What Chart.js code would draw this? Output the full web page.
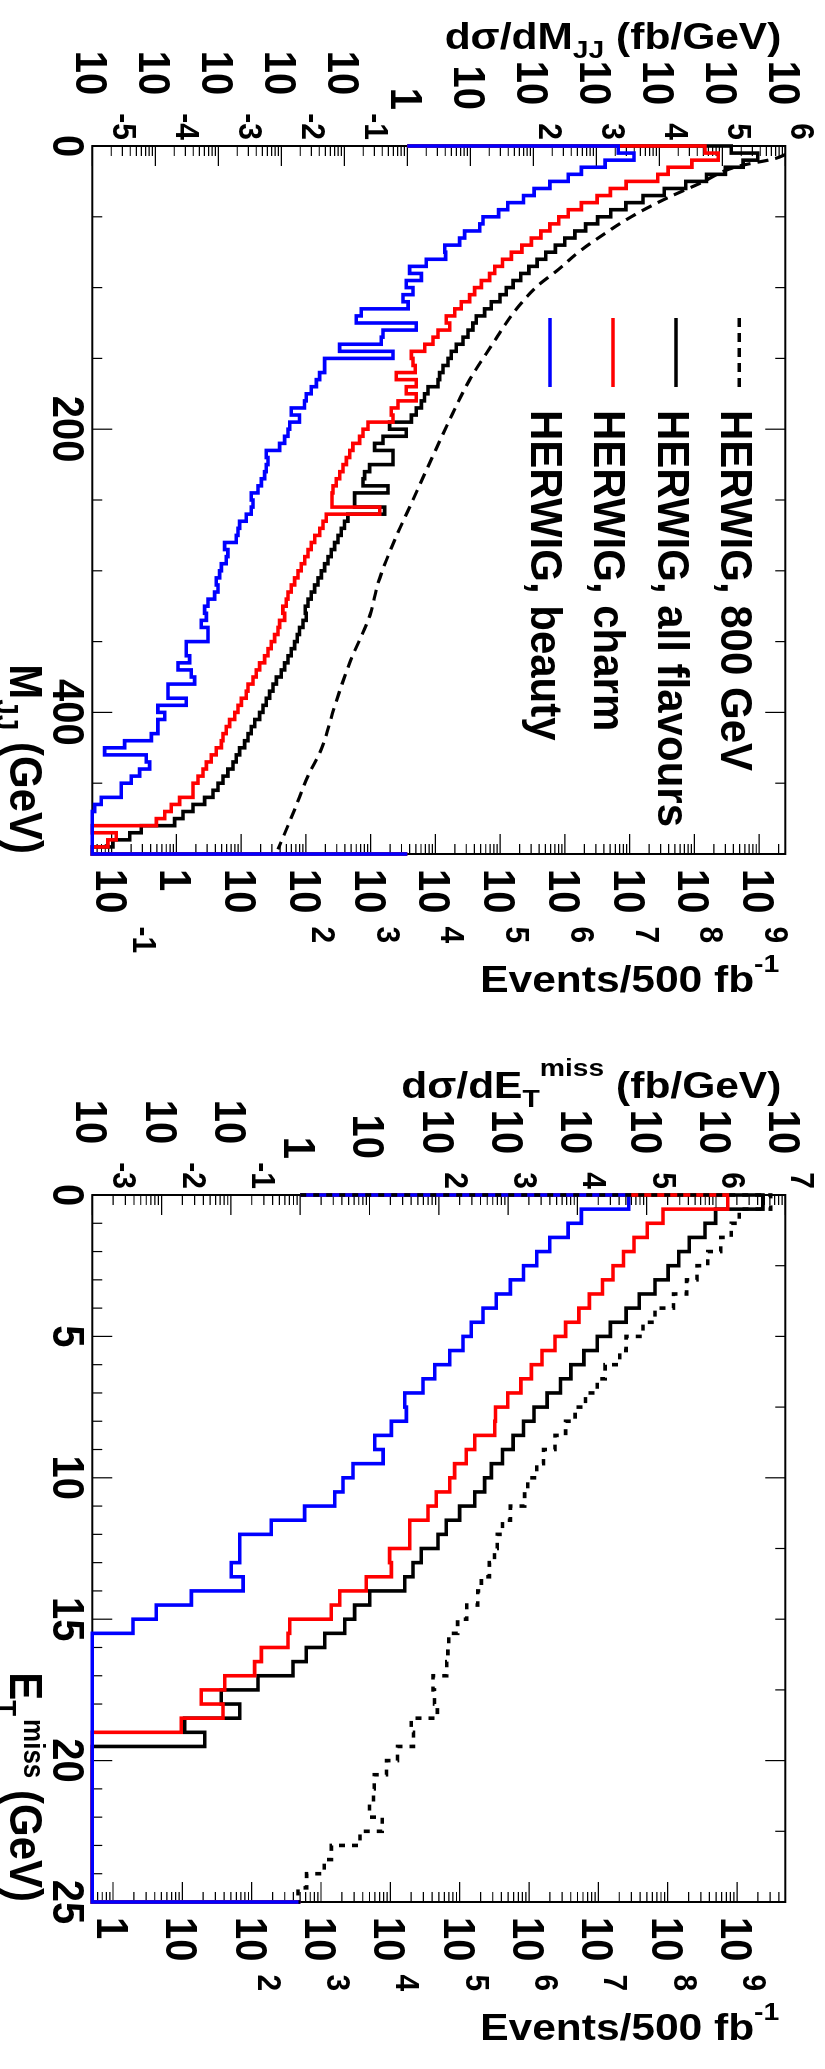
<!DOCTYPE html>
<html>
<head>
<meta charset="utf-8">
<script src="https://cdn.jsdelivr.net/npm/chart.js@4.4.1/dist/chart.umd.min.js"></script>
<style>
html,body{margin:0;padding:0;background:#fff;overflow:hidden;width:825px;height:2069px;}
#rot{position:absolute;left:0;top:0;width:2069px;height:825px;transform-origin:0 0;transform:translate(825px,0) rotate(90deg);background:#fff;}
#cA{position:absolute;left:0;top:0;}
#cB{position:absolute;left:1049px;top:0;}
</style>
</head>
<body>
<div id="rot">
  <canvas id="cA" width="1000" height="825"></canvas>
  <canvas id="cB" width="1020" height="825"></canvas>
</div>
<script>
// ---------------- DATA ----------------
// Upper panel: dsigma/dM_JJ (fb/GeV) in 5 GeV bins, M_JJ 0..500 GeV
const mjjRange = [0, 500];
const mjjBinWidth = 5;
const mjjTickLabels = [0, 200, 400];
const mjjBeauty = [2230, 3960, 1380, 580, 358, 183, 103, 69.8, 39.3, 28.2,
  15.9, 14.1, 8.13, 6.78, 3.92, 4.06, 2.00, 1.09, 1.67, 0.964,
  1.23, 0.853, 1.03, 0.186, 0.155, 1.39, 0.411, 0.386, 0.0843, 0.592,
  0.0488, 0.0488, 0.0406, 0.0360, 0.0299, 0.0249, 0.0234, 0.0144, 0.0195, 0.0136,
  0.0128, 0.0113, 0.00942, 0.00578, 0.00614, 0.00578, 0.00543, 0.00482, 0.00427, 0.00334,
  0.00355, 0.00334, 0.00278, 0.00218, 0.00205, 0.00193, 0.00126, 0.00142, 0.00134, 0.00112,
  0.00105, 0.000929, 0.000989, 0.000875, 0.000685, 0.000607, 0.000646, 0.000537, 0.000685, 0.000685,
  0.000310, 0.000310, 0.000351, 0.000229, 0.000372, 0.000421, 0.000159, 0.000159, 0.000310, 0.000110,
  0.000141, 0.000110, 0.000110, 0.0000865, 0.0000326, 0.0000157, 0.0000719, 0.0000813, 0.0000564, 0.0000416,
  0.0000288, 0.0000288, 0.0000139, 0.0000109, 0, 0, 0, 0, 0, 0];
const mjjCharm = [53100, 86100, 32900, 13800, 9440, 2970, 1670, 1030, 580, 358,
  254, 183, 132, 93.3, 65.9, 44.9, 32.4, 24.4, 20.3, 15.0,
  11.7, 9.77, 7.19, 5.65, 4.16, 4.71, 3.07, 2.56, 1.89, 1.16,
  1.23, 1.34, 0.668, 1.39, 0.964, 1.39, 0.711, 0.557, 0.593, 0.238,
  0.198, 0.175, 0.137, 0.122, 0.108, 0.0953, 0.0845, 0.0746, 0.0662, 0.0638,
  0.0638, 0.365, 0.0518, 0.0459, 0.0407, 0.0339, 0.0299, 0.0265, 0.0235, 0.0207,
  0.0184, 0.0163, 0.0144, 0.0128, 0.0120, 0.0106, 0.0113, 0.00942, 0.00885, 0.00783,
  0.00693, 0.00614, 0.00543, 0.00453, 0.00401, 0.00355, 0.00296, 0.00278, 0.00232, 0.00205,
  0.00182, 0.00151, 0.00134, 0.00119, 0.00112, 0.000929, 0.000774, 0.000646, 0.000571, 0.000475,
  0.000396, 0.000396, 0.000243, 0.000179, 0.000141, 0.000104, 0, 0.0000240, 0.0000177, 0];
const mjjAll = [139000, 365000, 214000, 112000, 56200, 26300, 12000, 5500, 2950, 1700,
  1050, 676, 457, 316, 224, 158, 115, 85.1, 63.1, 47.9,
  37.2, 29.6, 21.5, 16.9, 12.4, 11.0, 9.18, 7.66, 6.00, 4.99,
  4.43, 3.68, 3.26, 3.07, 2.13, 1.88, 1.67, 1.39, 1.16, 0.525,
  0.964, 0.411, 0.303, 0.592, 0.592, 0.252, 0.210, 0.198, 0.493, 0.146,
  0.146, 0.437, 0.114, 0.101, 0.0895, 0.0793, 0.0703, 0.0622, 0.0551, 0.0488,
  0.0432, 0.0382, 0.0338, 0.0299, 0.0265, 0.0240, 0.0249, 0.0221, 0.0195, 0.0179,
  0.0163, 0.0144, 0.0128, 0.0113, 0.0100, 0.00834, 0.00738, 0.00653, 0.00578, 0.00512,
  0.00453, 0.00378, 0.00334, 0.00296, 0.00262, 0.00218, 0.00193, 0.00171, 0.00142, 0.00119,
  0.000989, 0.000822, 0.000607, 0.000396, 0.000275, 0.000203, 0.0000600, 0.0000392, 0.0000213, 0];
const mjj800M = [6, 8.7, 14.6, 26.4, 38.1, 49.9, 61.7, 73.4, 87.6, 99.4, 113.5, 127.6, 137.5, 165,
  195.8, 226.5, 252.4, 278.2, 308.8, 331, 364.9, 395.5, 426.1, 444.9, 468.5, 496.7];
const mjj800Val = [1.0e6, 7.1e5, 1.69e5, 4.4e4, 1.15e4, 3610, 1380, 580, 244, 113, 57.8, 33.9, 24.4, 9.8,
  4.43, 2.13, 1.16, 0.631, 0.343, 0.257, 0.122, 0.0705, 0.0432, 0.0265, 0.0163, 0.00887];

// Lower panel: dsigma/dE_T^miss (fb/GeV) in 0.5 GeV bins, 0..25 GeV
const etRange = [0, 25];
const etBinWidth = 0.5;
const etTickLabels = [0, 5, 10, 15, 20, 25];
const etBeauty = [55000, 11400, 7360, 4000, 2590, 1670, 1080, 676, 435, 294,
  223, 144, 87.3, 59.2, 32.2, 34.0, 20.7, 11.9, 15.7, 5.78,
  4.15, 3.15, 1.16, 0.383, 0.134, 0.134, 0.101, 0.150, 0.0269, 0.00839,
  0.00386, 0, 0, 0, 0, 0, 0, 0, 0, 0,
  0, 0, 0, 0, 0, 0, 0, 0, 0, 0];
const etCharm = [1.48e6, 172000, 102000, 65600, 46200, 32700, 23000, 14900, 10500, 6760,
  4760, 3080, 2170, 1530, 986, 658, 641, 330, 249, 169,
  144, 92.0, 69.8, 38.0, 38.0, 19.5, 20.7, 8.99, 3.72, 2.81,
  0.705, 0.667, 0.275, 0.220, 0.0815, 0.0374, 0.0769, 0.0192, 0, 0,
  0, 0, 0, 0, 0, 0, 0, 0, 0, 0];
const etAll = [4.75e6, 986000, 693000, 412000, 290000, 204000, 132000, 78200, 50500, 29900,
  19300, 12400, 8050, 5690, 3660, 2370, 1670, 1180, 830, 573,
  459, 330, 200, 128, 97.3, 55.8, 42.5, 32.2, 10.1, 6.11,
  4.39, 2.26, 1.22, 0.787, 0.246, 0.0726, 0.134, 0.0215, 0.0419, 0,
  0, 0, 0, 0, 0, 0, 0, 0, 0, 0];
const et800 = [6.18e6, 2.16e6, 1.66e6, 1.17e6, 759000, 533000, 377000, 244000, 132000, 88500,
  50500, 40900, 25100, 19300, 13100, 9270, 6760, 4760, 3240, 2590,
  1920, 1730, 1080, 830, 697, 638, 536, 412, 364, 253,
  187, 139, 135, 130, 82.4, 86.5, 95.5, 40.0, 43.2, 25.4,
  17.6, 11.7, 11.4, 10.0, 15.3, 7.29, 2.82, 2.22, 1.24, 0.929];

// Axis ranges
const mjjXsecRange = [1e-5, 1e6];
const mjjEventsRangeLog = [-1.297, 9.403];
const etXsecRange = [1e-3, 1e7];
const etEventsRangeLog = [-0.2985, 9.696];
const histBaseline = 1;

const legendLabels = ['HERWIG, 800 GeV', 'HERWIG, all flavours', 'HERWIG, charm', 'HERWIG, beauty'];

// ---------------- helpers ----------------
const FAMILY = '"Liberation Sans", Arial, Helvetica, sans-serif';
const F = s => 'bold ' + s + 'px ' + FAMILY;

function histPoints(vals, lo, w, base, floor) {
  const pts = [{x: lo, y: base}];
  vals.forEach((v, i) => {
    const y = Math.max(v, floor);
    pts.push({x: lo + i * w, y: y});
    pts.push({x: lo + (i + 1) * w, y: y});
  });
  pts.push({x: lo + vals.length * w, y: base});
  return pts;
}

function drawRuns(ctx, runs, x, y, o) {
  o = o || {};
  const align = o.align || 'left', sx = o.sx || 1, sy = o.sy || 1, rot = o.rot || 0;
  ctx.save();
  ctx.translate(x, y);
  if (rot) ctx.rotate(rot);
  ctx.scale(sx, sy);
  ctx.fillStyle = '#000';
  ctx.textBaseline = 'alphabetic';
  ctx.textAlign = 'left';
  let total = 0;
  const ws = runs.map(r => { ctx.font = F(r.size); const w = ctx.measureText(r.t).width; total += w + (r.gap || 0); return w; });
  let cx = align === 'right' ? -total : (align === 'center' ? -total / 2 : 0);
  runs.forEach((r, i) => {
    cx += (r.gap || 0);
    ctx.font = F(r.size);
    ctx.fillText(r.t, cx, (r.dy || 0) / sy);
    cx += ws[i];
  });
  ctx.restore();
  return total * sx;
}

function logLabels(ctx, scale, side, edge) {
  const lo = Math.log10(scale.min), hi = Math.log10(scale.max);
  for (let d = Math.ceil(lo - 1e-9); d <= Math.floor(hi + 1e-9); d++) {
    const v = scale.getPixelForValue(Math.pow(10, d));
    const base = d === 0 ? '1' : '10';
    const exp = (d === 0 || d === 1) ? '' : String(d);
    const expDy = d < 0 ? -21 : -6;
    ctx.font = F(30); const expW = exp ? ctx.measureText(exp).width : 0;
    ctx.font = F(40); const baseW = ctx.measureText(base).width;
    if (side === 'left') {
      const expRight = edge - 6;
      const baseRight = exp ? expRight - expW - 18 : edge - 36;
      drawRuns(ctx, [{t: base, size: 40}], baseRight, v + 16, {align: 'right', sy: 1.12});
      if (exp) drawRuns(ctx, [{t: exp, size: 30}], expRight, v + expDy, {align: 'right', sy: 1.12});
    } else {
      const baseLeft = edge + 15;
      drawRuns(ctx, [{t: base, size: 40}], baseLeft, v + 16, {sy: 1.12});
      if (exp) drawRuns(ctx, [{t: exp, size: 30}], baseLeft + baseW + 13, v + expDy, {sy: 1.12});
    }
  }
}

function makeRootPlugin(cfg) {
  return {
    id: 'rootStyle',
    beforeDatasetsDraw(chart) {
      const ctx = chart.ctx, ca = chart.chartArea, xs = chart.scales.x;
      ctx.save();
      ctx.strokeStyle = '#000';
      ctx.lineWidth = 1.2;
      ctx.beginPath();
      const tickSet = (step, major, y0, dir) => {
        const n = Math.round((xs.max - xs.min) / step);
        for (let k = 0; k <= n; k++) {
          const val = xs.min + k * step;
          const isMaj = Math.abs(val / major - Math.round(val / major)) < 1e-6;
          const px = xs.getPixelForValue(val);
          ctx.moveTo(px, y0); ctx.lineTo(px, y0 + dir * (isMaj ? 20 : 10));
        }
      };
      tickSet(cfg.xMinor, cfg.xMajor, ca.bottom, -1);
      tickSet(cfg.xTopMinor, cfg.xTopMajor, ca.top, 1);
      const logSet = (scale, x0, dir) => {
        const lo = Math.log10(scale.min), hi = Math.log10(scale.max);
        for (let d = Math.floor(lo); d <= Math.ceil(hi); d++) {
          for (let m = 1; m <= 9; m++) {
            const val = m * Math.pow(10, d), L = Math.log10(val);
            if (L < lo - 1e-9 || L > hi + 1e-9) continue;
            const py = scale.getPixelForValue(val);
            ctx.moveTo(x0, py); ctx.lineTo(x0 + dir * (m === 1 ? 20 : 10), py);
          }
        }
      };
      logSet(chart.scales.yL, ca.left, 1);
      logSet(chart.scales.yR, ca.right, -1);
      ctx.stroke();
      ctx.lineWidth = 2;
      ctx.strokeRect(ca.left, ca.top, ca.right - ca.left, ca.bottom - ca.top);
      ctx.restore();
    },
    afterDatasetsDraw(chart) {
      const ctx = chart.ctx, ca = chart.chartArea, xs = chart.scales.x;
      cfg.xLabels.forEach(val => {
        drawRuns(ctx, [{t: String(val), size: 40}], xs.getPixelForValue(val), ca.bottom + 39.7, {align: 'center', sy: 1.1});
      });
      logLabels(ctx, chart.scales.yL, 'left', ca.left);
      logLabels(ctx, chart.scales.yR, 'right', ca.right);
      drawRuns(ctx, cfg.xTitle, ca.right, ca.bottom + 81.8, {align: 'right', sy: 1.12});
      drawRuns(ctx, cfg.yLTitle, ca.left - 97, ca.top + 4, {align: 'right', sx: 1.18, rot: -Math.PI / 2});
      drawRuns(ctx, cfg.yRTitle, ca.right + 138, ca.top + 6, {align: 'right', sx: 1.18, rot: -Math.PI / 2});
      if (cfg.legend) {
        const ds = chart.data.datasets;
        const order = [3, 2, 1, 0];
        order.forEach((di, row) => {
          const d = ds[di];
          const v = ca.top + 46.1 + row * 63.1;
          ctx.save();
          ctx.strokeStyle = d.borderColor;
          ctx.lineWidth = 3.5;
          ctx.setLineDash(d.borderDash ? [9, 6] : []);
          ctx.beginPath();
          ctx.moveTo(ca.left + 172, v); ctx.lineTo(ca.left + 241, v);
          ctx.stroke();
          ctx.restore();
          drawRuns(ctx, [{t: d.label, size: 42}], ca.left + 264, v + 18.5, {sy: 1.06});
        });
      }
    }
  };
}

function baseOptions(xr, yl, yrLog, rightW) {
  return {
    responsive: false,
    animation: false,
    events: [],
    layout: {padding: {top: 39.7, left: 0, right: 0, bottom: 0}},
    plugins: {legend: {display: false}, tooltip: {enabled: false}, title: {display: false}},
    elements: {point: {radius: 0}, line: {borderJoinStyle: 'miter', borderCapStyle: 'butt'}},
    scales: {
      x: {type: 'linear', position: 'bottom', min: xr[0], max: xr[1],
          ticks: {display: false}, grid: {display: false}, border: {display: false},
          afterFit(s) { s.height = 825 - 732.7; }},
      yL: {type: 'logarithmic', position: 'left', min: yl[0], max: yl[1],
          ticks: {display: false}, grid: {display: false}, border: {display: false},
          afterFit(s) { s.width = 146; }},
      yR: {type: 'logarithmic', position: 'right', min: Math.pow(10, yrLog[0]), max: Math.pow(10, yrLog[1]),
          ticks: {display: false}, grid: {display: false}, border: {display: false},
          afterFit(s) { s.width = rightW; }}
    }
  };
}

const common = {pointRadius: 0, fill: false, tension: 0, clip: 3, xAxisID: 'x', yAxisID: 'yL', borderWidth: 3.6};

// ---------------- upper panel ----------------
new Chart(document.getElementById('cA'), {
  type: 'line',
  data: {datasets: [
    Object.assign({label: legendLabels[3], borderColor: '#0000ff',
      data: histPoints(mjjBeauty, mjjRange[0], mjjBinWidth, histBaseline, mjjXsecRange[0])}, common),
    Object.assign({label: legendLabels[2], borderColor: '#ff0000',
      data: histPoints(mjjCharm, mjjRange[0], mjjBinWidth, histBaseline, mjjXsecRange[0])}, common),
    Object.assign({label: legendLabels[1], borderColor: '#000000',
      data: histPoints(mjjAll, mjjRange[0], mjjBinWidth, histBaseline, mjjXsecRange[0])}, common),
    Object.assign({}, common, {label: legendLabels[0], borderColor: '#000000', borderDash: [11, 7], borderWidth: 3.2,
      cubicInterpolationMode: 'monotone',
      data: mjj800M.map((m, i) => ({x: m, y: mjj800Val[i]}))})
  ]},
  options: baseOptions(mjjRange, mjjXsecRange, mjjEventsRangeLog, 1000 - 854),
  plugins: [makeRootPlugin({
    xMinor: 50, xMajor: 200, xTopMinor: 50, xTopMajor: 200,
    xLabels: mjjTickLabels,
    xTitle: [{t: 'M', size: 42}, {t: 'JJ', size: 28, dy: 14}, {t: ' (GeV)', size: 42}],
    yLTitle: [{t: 'd\u03C3/dM', size: 36}, {t: 'JJ', size: 24, dy: 9}, {t: ' (fb/GeV)', size: 36}],
    yRTitle: [{t: 'Events/500 fb', size: 36}, {t: '-1', size: 24, dy: -20}],
    legend: true
  })]
});

// ---------------- lower panel ----------------
new Chart(document.getElementById('cB'), {
  type: 'line',
  data: {datasets: [
    Object.assign({}, common, {label: legendLabels[0], borderColor: '#000000', borderDash: [6, 7],
      data: histPoints(et800, etRange[0], etBinWidth, histBaseline, etXsecRange[0])}),
    Object.assign({label: legendLabels[3], borderColor: '#0000ff',
      data: histPoints(etBeauty, etRange[0], etBinWidth, histBaseline, etXsecRange[0])}, common),
    Object.assign({label: legendLabels[2], borderColor: '#ff0000',
      data: histPoints(etCharm, etRange[0], etBinWidth, histBaseline, etXsecRange[0])}, common),
    Object.assign({label: legendLabels[1], borderColor: '#000000',
      data: histPoints(etAll, etRange[0], etBinWidth, histBaseline, etXsecRange[0])}, common)
  ]},
  options: baseOptions(etRange, etXsecRange, etEventsRangeLog, 1020 - 853),
  plugins: [makeRootPlugin({
    xMinor: 1, xMajor: 5, xTopMinor: 2.5, xTopMajor: 10,
    xLabels: etTickLabels,
    xTitle: [{t: 'E', size: 42}, {t: 'T', size: 26, dy: 14}, {t: 'miss', size: 26, dy: -14, gap: 3}, {t: ' (GeV)', size: 42}],
    yLTitle: [{t: 'd\u03C3/dE', size: 36}, {t: 'T', size: 24, dy: 9}, {t: 'miss', size: 24, dy: -22}, {t: ' (fb/GeV)', size: 36}],
    yRTitle: [{t: 'Events/500 fb', size: 36}, {t: '-1', size: 24, dy: -20}],
    legend: false
  })]
});
</script>
</body>
</html>
